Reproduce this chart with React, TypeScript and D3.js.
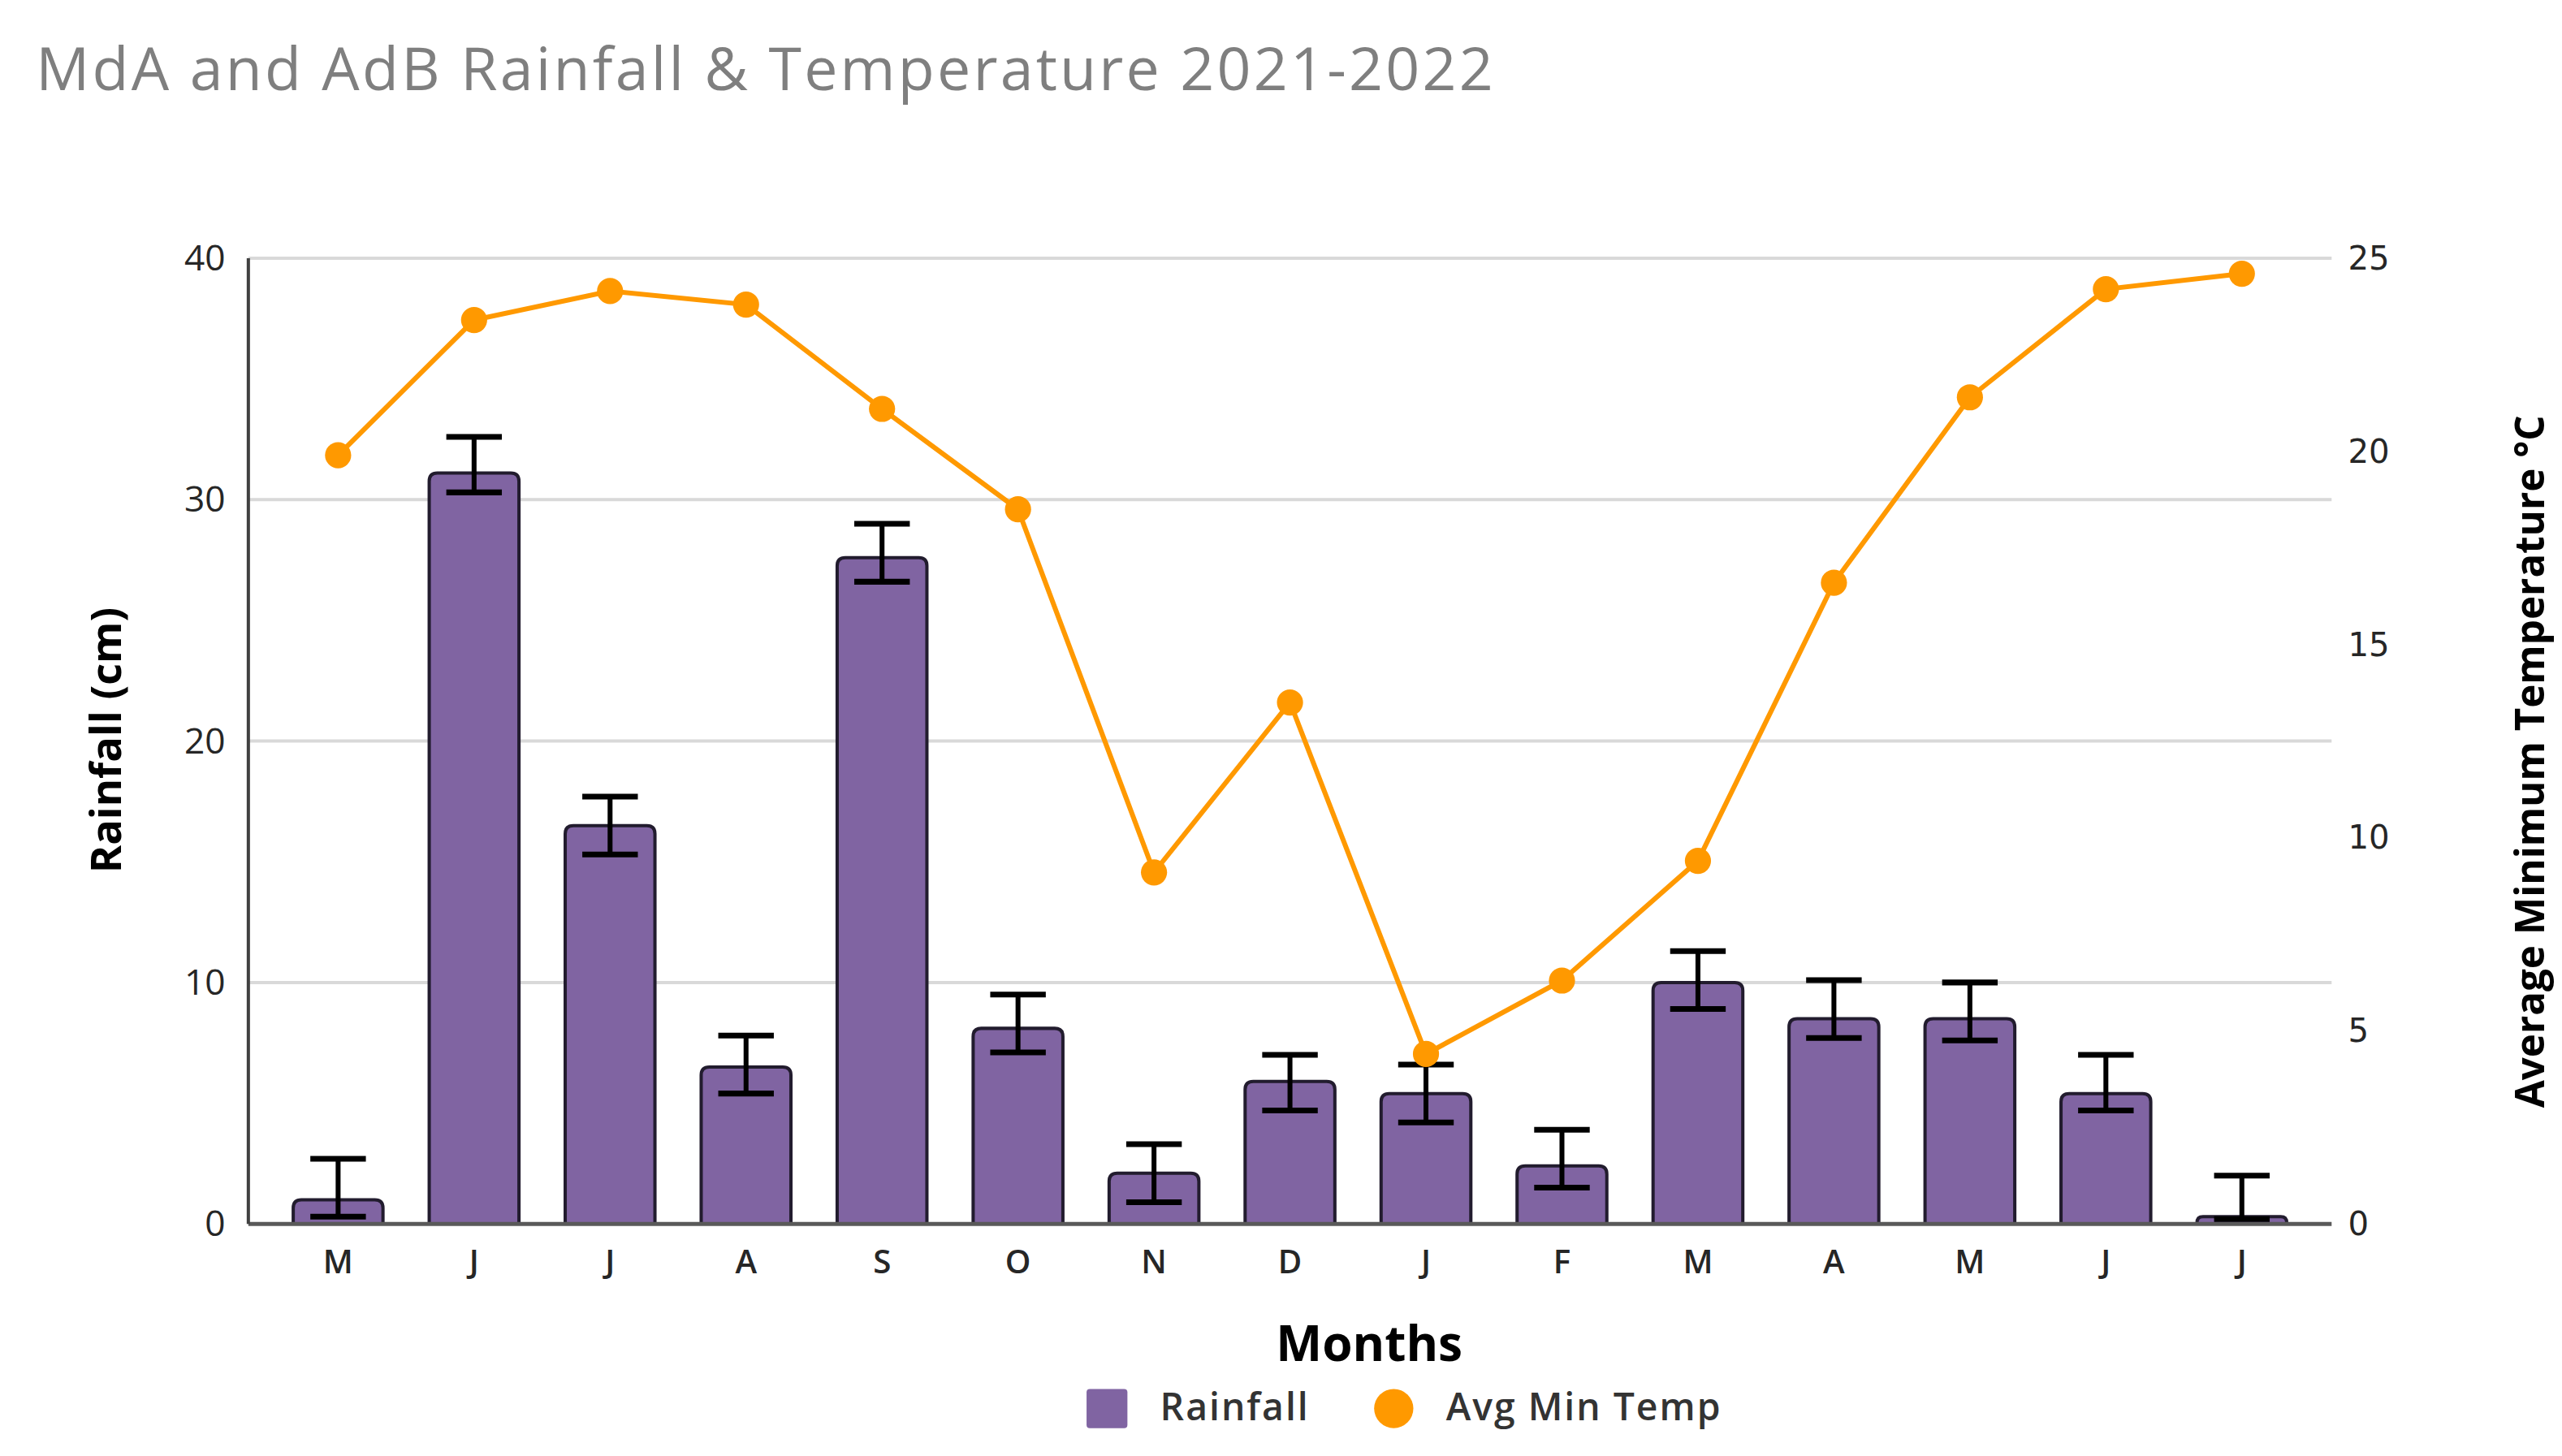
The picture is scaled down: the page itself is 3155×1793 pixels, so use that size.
import { useEffect, useRef } from 'react';
import * as d3 from 'd3';

const months = ['M', 'J', 'J', 'A', 'S', 'O', 'N', 'D', 'J', 'F', 'M', 'A', 'M', 'J', 'J'];
const rainfall = [1.0, 31.1, 16.5, 6.5, 27.6, 8.1, 2.1, 5.9, 5.4, 2.4, 10.0, 8.5, 8.5, 5.4, 0.3];
const rainLow = [0.3, 30.3, 15.3, 5.4, 26.6, 7.1, 0.9, 4.7, 4.2, 1.5, 8.9, 7.7, 7.6, 4.7, 0.2];
const rainHigh = [2.7, 32.6, 17.7, 7.8, 29.0, 9.5, 3.3, 7.0, 6.6, 3.9, 11.3, 10.1, 10.0, 7.0, 2.0];
const minTemp = [19.9, 23.4, 24.15, 23.8, 21.1, 18.5, 9.1, 13.5, 4.4, 6.3, 9.4, 16.6, 21.4, 24.2, 24.6];
const leftTicks = [0, 10, 20, 30, 40];
const rightTicks = [0, 5, 10, 15, 20, 25];

const colors = {
  purple: '#8064a2',
  barStroke: '#221c2e',
  orange: '#ff9900',
  grid: '#d9d9d9',
  text: '#262626',
  title: '#7f7f7f',
};

export default function App() {
  const ref = useRef<SVGSVGElement>(null);

  useEffect(() => {
    const svg = d3.select(ref.current);
    svg.selectAll('*').remove();

    const left = 152;
    const right = 1427;
    const top = 158;
    const bottom = 749;

    const x = d3
      .scaleBand<number>()
      .domain(d3.range(months.length))
      .range([left, right])
      .paddingInner(0.34)
      .paddingOuter(0.33);
    const yL = d3.scaleLinear().domain([0, 40]).range([bottom, top]);
    const yR = d3.scaleLinear().domain([0, 25]).range([bottom, top]);

    // title
    svg
      .append('text')
      .attr('x', 22)
      .attr('y', 55)
      .attr('font-family', 'Open Sans')
      .attr('font-size', 36.5)
      .attr('letter-spacing', 1.6)
      .attr('fill', colors.title)
      .text('MdA and AdB Rainfall & Temperature 2021-2022');

    // gridlines
    svg
      .append('g')
      .selectAll('line')
      .data(leftTicks.filter(d => d > 0))
      .enter()
      .append('line')
      .attr('x1', left)
      .attr('x2', right)
      .attr('y1', d => yL(d))
      .attr('y2', d => yL(d))
      .attr('stroke', colors.grid)
      .attr('stroke-width', 2);

    // left axis
    const leftAxis = svg
      .append('g')
      .attr('transform', `translate(${left - 14},0)`)
      .call(d3.axisLeft(yL).tickValues(leftTicks).tickSize(0).tickPadding(0));
    leftAxis.select('.domain').remove();
    leftAxis
      .selectAll('text')
      .attr('font-family', 'Open Sans')
      .attr('font-size', 22)
      .attr('fill', colors.text);

    // right axis
    const rightAxis = svg
      .append('g')
      .attr('transform', `translate(${right + 10},0)`)
      .call(d3.axisRight(yR).tickValues(rightTicks).tickSize(0).tickPadding(0));
    rightAxis.select('.domain').remove();
    rightAxis
      .selectAll('text')
      .attr('font-family', 'DejaVu Sans')
      .attr('font-size', 20)
      .attr('fill', colors.text);

    // bars with rounded tops
    const r = 5;
    svg
      .append('g')
      .selectAll('path')
      .data(rainfall)
      .enter()
      .append('path')
      .attr('d', (d, i) => {
        const x0 = x(i)!;
        const x1 = x0 + x.bandwidth();
        const y0 = yL(0);
        const y1 = yL(d);
        const rr = Math.min(r, (y0 - y1) / 1.2);
        return `M${x0},${y0} L${x0},${y1 + rr} Q${x0},${y1} ${x0 + rr},${y1} L${x1 - rr},${y1} Q${x1},${y1} ${x1},${y1 + rr} L${x1},${y0}`;
      })
      .attr('fill', colors.purple)
      .attr('stroke', colors.barStroke)
      .attr('stroke-width', 2);

    // x baseline
    svg
      .append('line')
      .attr('x1', left)
      .attr('x2', right)
      .attr('y1', bottom)
      .attr('y2', bottom)
      .attr('stroke', '#595959')
      .attr('stroke-width', 2.5);

    // left axis line
    svg
      .append('line')
      .attr('x1', left)
      .attr('x2', left)
      .attr('y1', top)
      .attr('y2', bottom)
      .attr('stroke', '#404040')
      .attr('stroke-width', 2);

    // error bars
    const capW = 17;
    const err = svg
      .append('g')
      .selectAll('g')
      .data(rainfall)
      .enter()
      .append('g')
      .attr('stroke', '#000')
      .attr('stroke-width', 3.5);
    const cx = (i: number) => x(i)! + x.bandwidth() / 2;
    err
      .append('line')
      .attr('x1', (d, i) => cx(i))
      .attr('x2', (d, i) => cx(i))
      .attr('y1', (d, i) => yL(rainLow[i]))
      .attr('y2', (d, i) => yL(rainHigh[i]))
      .attr('stroke-width', 3);
    err
      .append('line')
      .attr('x1', (d, i) => cx(i) - capW)
      .attr('x2', (d, i) => cx(i) + capW)
      .attr('y1', (d, i) => yL(rainLow[i]))
      .attr('y2', (d, i) => yL(rainLow[i]));
    err
      .append('line')
      .attr('x1', (d, i) => cx(i) - capW)
      .attr('x2', (d, i) => cx(i) + capW)
      .attr('y1', (d, i) => yL(rainHigh[i]))
      .attr('y2', (d, i) => yL(rainHigh[i]));

    // temperature line
    const line = d3
      .line<number>()
      .x((d, i) => cx(i))
      .y(d => yR(d));
    svg
      .append('path')
      .datum(minTemp)
      .attr('d', line)
      .attr('fill', 'none')
      .attr('stroke', colors.orange)
      .attr('stroke-width', 3);
    svg
      .append('g')
      .selectAll('circle')
      .data(minTemp)
      .enter()
      .append('circle')
      .attr('cx', (d, i) => cx(i))
      .attr('cy', d => yR(d))
      .attr('r', 8)
      .attr('fill', colors.orange);

    // x axis labels
    const xAxis = svg
      .append('g')
      .attr('transform', `translate(0,${bottom + 16})`)
      .call(
        d3
          .axisBottom(x)
          .tickSize(0)
          .tickPadding(0)
          .tickFormat(i => months[i])
      );
    xAxis.select('.domain').remove();
    xAxis
      .selectAll('text')
      .attr('font-family', 'Open Sans')
      .attr('font-weight', 600)
      .attr('font-size', 20)
      .attr('fill', colors.text);

    // axis titles
    svg
      .append('text')
      .attr('transform', 'translate(74,453) rotate(-90)')
      .attr('text-anchor', 'middle')
      .attr('font-family', 'Open Sans')
      .attr('font-weight', 'bold')
      .attr('font-size', 26)
      .attr('fill', '#000')
      .text('Rainfall (cm)');
    svg
      .append('text')
      .attr('transform', 'translate(1557,466) rotate(-90)')
      .attr('text-anchor', 'middle')
      .attr('font-family', 'Open Sans')
      .attr('font-weight', 'bold')
      .attr('font-size', 24.5)
      .attr('fill', '#000')
      .text('Average Minimum Temperature \u00b0C');
    svg
      .append('text')
      .attr('x', 838)
      .attr('y', 833)
      .attr('text-anchor', 'middle')
      .attr('font-family', 'Open Sans')
      .attr('font-weight', 'bold')
      .attr('font-size', 30)
      .attr('fill', '#000')
      .text('Months');

    // legend
    const legend = svg
      .append('g')
      .attr('font-family', 'Open Sans')
      .attr('font-weight', 600)
      .attr('font-size', 23);
    legend
      .append('rect')
      .attr('x', 665)
      .attr('y', 850)
      .attr('width', 25)
      .attr('height', 24)
      .attr('rx', 2)
      .attr('fill', colors.purple);
    legend
      .append('text')
      .attr('x', 710)
      .attr('y', 869)
      .attr('letter-spacing', 1)
      .attr('fill', '#333')
      .text('Rainfall');
    legend
      .append('circle')
      .attr('cx', 853)
      .attr('cy', 862)
      .attr('r', 12)
      .attr('fill', colors.orange);
    legend
      .append('text')
      .attr('x', 885)
      .attr('y', 869)
      .attr('letter-spacing', 1)
      .attr('fill', '#333')
      .text('Avg Min Temp');
  }, []);

  return (
    <svg
      ref={ref}
      width={3155}
      height={1793}
      viewBox="0 0 1568 891"
      style={{ position: 'absolute', left: 0, top: 0, background: '#fff' }}
    />
  );
}
